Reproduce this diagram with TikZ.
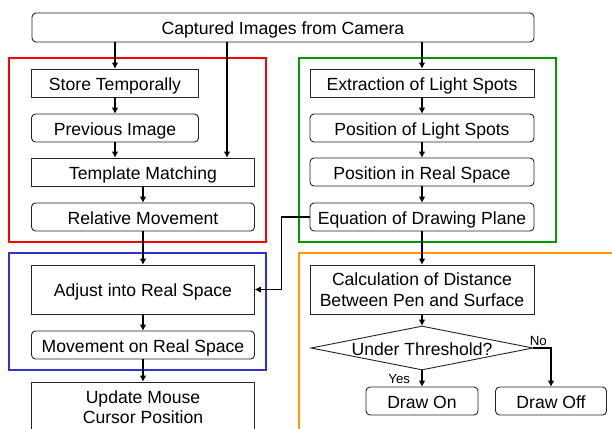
\documentclass[tikz,border=0pt]{standalone}
\usepackage{fontspec}
\setmainfont{Liberation Sans}
\usetikzlibrary{arrows.meta,shapes.geometric}
\definecolor{framered}{RGB}{255,0,0}
\definecolor{framegreen}{RGB}{0,153,0}
\definecolor{frameblue}{RGB}{51,51,204}
\definecolor{frameorange}{RGB}{255,153,0}
\definecolor{boxline}{RGB}{35,35,35}

\begin{document}
\begin{tikzpicture}[
  x=1bp,y=-1bp,
  font=\fontsize{17.6bp}{20.5bp}\selectfont,
  flow/.style={-{Triangle[length=6bp,width=5.5bp]}, draw=black,
               line width=1.8bp},
  frame/.style={line width=2.2bp},
  stepbox/.style={draw=boxline, fill=white, line width=0.9bp,
                  inner sep=0pt, align=center,
                  text height=14.6bp, text depth=0pt},
  twoline/.style={text height=, text depth=},
  roundbox/.style={stepbox, rounded corners=4bp},
  decision/.style={diamond, draw=boxline, fill=white, line width=0.9bp,
                   aspect=5, inner sep=0pt,
                   text height=14.6bp, text depth=0pt,
                   minimum width=222bp, minimum height=44bp},
  branch/.style={font=\fontsize{13.3bp}{15bp}\selectfont, inner sep=1bp}
]

% Page size.
\clip (0,0) rectangle (612,428);

% Coloured group frames.
\draw[framered, frame] (9,58) rectangle (266,242);
\draw[framegreen, frame] (299,58) rectangle (556,242);
\draw[frameblue, frame] (9,253) rectangle (266,370);
\draw[frameorange, frame] (299,440) -- (299,253) -- (620,253);

% Camera input.
\node[roundbox, minimum width=502bp, minimum height=29bp]
  (cam) at (283,27.5) {Captured Images from Camera};

% Left lane: relative movement of the pen.
\node[stepbox, minimum width=167bp, minimum height=28bp]
  (store) at (115,83) {Store Temporally};
\node[roundbox, minimum width=167bp, minimum height=28bp]
  (prev) at (115,128) {Previous Image};
\node[stepbox, minimum width=223bp, minimum height=28bp]
  (tmpl) at (143,172) {Template Matching};
\node[roundbox, minimum width=223bp, minimum height=28bp]
  (relmv) at (143,217) {Relative Movement};
\node[stepbox, minimum width=223bp, minimum height=49bp]
  (adjust) at (143,289.5) {Adjust into Real Space};
\node[roundbox, minimum width=223bp, minimum height=28bp]
  (movrs) at (143,345) {Movement on Real Space};
\node[stepbox, twoline, minimum width=223bp, minimum height=50bp]
  (update) at (143,407) {Update Mouse\\Cursor Position};

% Right lane: light spots and drawing plane.
\node[stepbox, minimum width=224bp, minimum height=28bp]
  (extr) at (422,83) {Extraction of Light Spots};
\node[roundbox, minimum width=224bp, minimum height=28bp]
  (posls) at (422,128) {Position of Light Spots};
\node[roundbox, minimum width=224bp, minimum height=28bp]
  (posrs) at (422,172) {Position in Real Space};
\node[roundbox, minimum width=224bp, minimum height=28bp]
  (eqn) at (422,217) {Equation of Drawing Plane};

% Pen contact decision.
\node[stepbox, twoline, minimum width=224bp, minimum height=49bp]
  (calc) at (422,289.5) {Calculation of Distance\\Between Pen and Surface};
\node[decision] (thresh) at (422,348) {Under Threshold?};
\node[roundbox, minimum width=112bp, minimum height=28bp]
  (drawon) at (422,401) {Draw On};
\node[roundbox, minimum width=111bp, minimum height=28bp]
  (drawoff) at (551,401) {Draw Off};

% Connectors.
\coordinate (tmplin) at ([xshift=84bp]tmpl.north);
\draw[flow] (cam.south -| store.north) -- (store.north);
\draw[flow] (cam.south -| tmplin) -- (tmplin);
\draw[flow] (cam.south -| extr.north) -- (extr.north);

\draw[flow] (store.south) -- (prev.north);
\draw[flow] (prev.south) -- (prev.south |- tmpl.north);
\draw[flow] (tmpl.south -| relmv.north) -- (relmv.north);
\draw[flow] (relmv.south) -- (adjust.north);
\draw[flow] (adjust.south) -- (movrs.north);
\draw[flow] (movrs.south) -- (update.north);

\draw[flow] (extr.south) -- (posls.north);
\draw[flow] (posls.south) -- (posrs.north);
\draw[flow] (posrs.south) -- (eqn.north);
\draw[flow] (eqn.south) -- (calc.north);
\draw[flow] (eqn.west) -- ++(-28,0) |- (adjust.east);

\draw[flow] (calc.south) -- (thresh.north);
\draw[flow] (thresh.south) -- (drawon.north)
  node[branch, midway, left=10bp] {Yes};
\draw[flow] (thresh.east) -| (drawoff.north)
  node[branch, pos=0.14, above] {No};

\end{tikzpicture}
\end{document}
